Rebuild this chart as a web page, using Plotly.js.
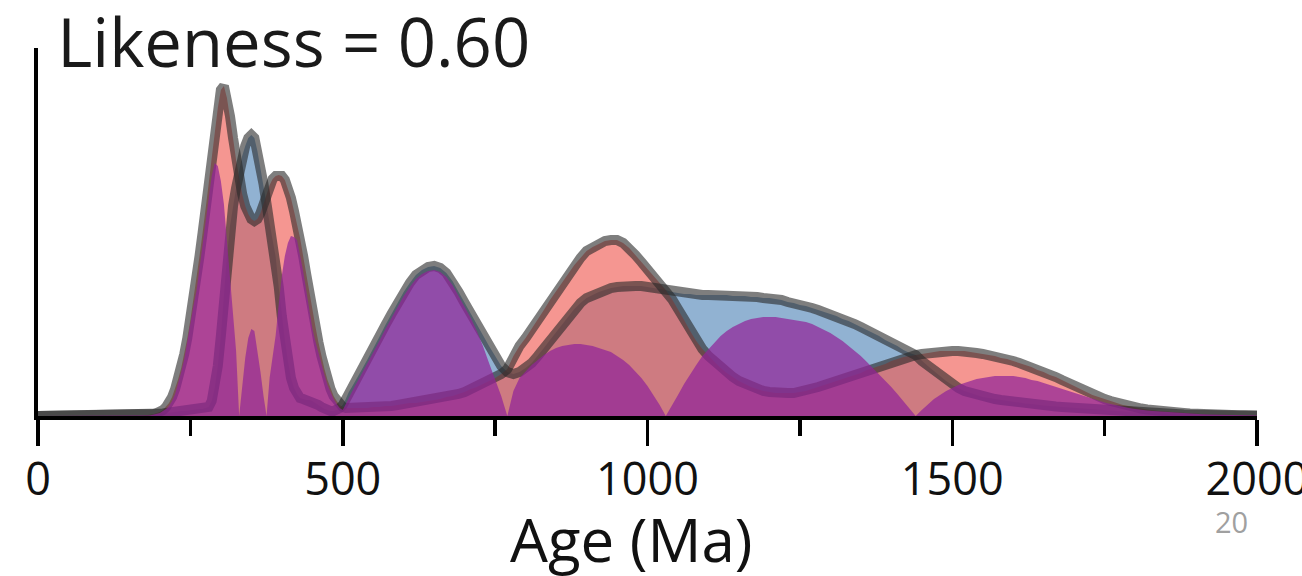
<!DOCTYPE html>
<html>
<head>
<meta charset="utf-8">
<script src="https://cdn.plot.ly/plotly-3.0.1.min.js"></script>
<style>
  html, body { margin: 0; padding: 0; background: #ffffff; }
  #chart { width: 1302px; height: 576px; }
</style>
</head>
<body>
<div id="chart"></div>
<script>
// Age grid (Ma) shared by the three density curves
const ageMa = [
  0, 100, 150, 170,
  180, 185, 190, 195, 200, 205, 210, 215, 220, 225, 230, 235, 240, 245, 250,
  255, 260, 265, 270, 275, 280, 285, 290, 295, 300, 305, 310, 315, 320, 325,
  330, 335, 340, 345, 350, 355, 360, 365, 370, 375, 380, 385, 390, 395, 400,
  405, 410, 415, 420, 425, 430, 435, 440, 445, 450, 455, 460, 465, 470, 475,
  480, 485, 490, 495, 500, 505, 510, 515, 520,
  530, 540, 550, 560, 570, 580, 590, 600, 610, 620,
  630, 640, 650, 660, 670, 680, 690, 700, 710, 720,
  730, 740, 750, 760, 770, 780, 790, 800, 810, 820,
  830, 840, 850, 860, 870, 880, 890, 900, 910, 920,
  930, 940, 950, 960, 970, 980, 990, 1000, 1010, 1020,
  1030, 1040, 1050, 1060, 1070, 1080, 1090, 1100, 1110, 1120,
  1130, 1140, 1150, 1160, 1170, 1180, 1190, 1200, 1210, 1220,
  1230, 1240, 1250, 1260, 1270, 1280, 1290, 1300, 1310, 1320,
  1330, 1340, 1350, 1360, 1370, 1380, 1390, 1400, 1410, 1420,
  1430, 1440, 1450, 1460, 1470, 1480, 1490, 1500, 1510, 1520,
  1530, 1540, 1550, 1560, 1570, 1580, 1590, 1600, 1610, 1620,
  1630, 1640, 1650, 1660, 1670, 1680, 1690, 1700, 1710, 1720,
  1730, 1740, 1750, 1760, 1770, 1780, 1790, 1800, 1810, 1820,
  1830, 1840, 1850, 1860, 1870, 1880, 1890, 1900, 1910, 1920,
  1930, 1940, 1950, 1960, 1970, 1980, 1990, 2000
];

// Sample A (red) relative probability
const sampleA = [
  0, 0, 0.1, 0.4,
  1, 1.3, 2, 3, 4, 6, 9, 13, 19, 27, 37, 48, 62, 78, 96,
  116, 138, 160, 183, 206, 232, 258, 284, 308, 326, 330, 318, 300, 278, 256,
  238, 222, 210, 202, 197, 195, 197, 203, 212, 222, 231, 237, 240, 241, 240,
  236, 228, 218, 205, 192, 178, 160, 142, 122, 104, 90, 74, 60, 47, 36,
  27, 20, 15, 11, 9, 8, 8, 8, 8,
  8, 8, 9, 9, 10, 10, 11, 12, 13, 13,
  14, 15, 16, 17, 19, 20, 22, 24, 27, 29,
  32, 35, 38, 42, 47, 60, 70, 78, 87, 97,
  106, 116, 125, 134, 143, 151, 158, 165, 169, 172,
  175, 176, 176, 173, 168, 161, 154, 147, 140, 133,
  126, 117, 107, 96, 85, 75, 67, 60, 54, 48,
  43, 39, 35, 32, 29, 27, 25, 24, 23, 23,
  23, 23, 24, 25, 27, 29, 31, 33, 35, 37,
  39, 41, 43, 46, 48, 50, 52, 55, 57, 59,
  60, 61, 62, 63, 64, 65, 65, 65, 65, 65,
  64, 63, 62, 61, 60, 58, 57, 55, 53, 51,
  49, 46, 44, 41, 39, 36, 33, 30, 27, 24,
  21, 19, 17, 15, 13, 11, 10, 8.5, 7.5, 6.5,
  5.5, 5, 4.5, 4, 3.5, 3, 2.5, 2, 1.8, 1.6,
  1.4, 1.2, 1, 0.9, 0.8, 0.7, 0.6, 0.5
];

// Sample B (blue) relative probability
const sampleB = [
  0, 0, 0.1, 0.3,
  0.5, 0.8, 1, 1.5, 2, 2.5, 3, 3.5, 4, 4.5, 5, 5, 5, 5.5, 6,
  6, 6.5, 7, 7, 8, 9, 15, 28, 50, 80, 120, 160, 190, 210, 228,
  245, 260, 270, 278, 281, 278, 265, 248, 232, 212, 193, 177, 159, 129, 100,
  76, 55, 38, 28, 22, 18, 17, 16, 16, 15, 13, 11, 9, 7, 6,
  5, 5, 6, 8, 11, 17, 24, 29, 34,
  45, 56, 67, 79, 91, 102, 114, 124, 133, 141,
  146, 149, 150, 148, 143, 135, 124, 113, 102, 91,
  80, 70, 60, 50, 44, 42, 44, 48, 53, 60,
  68, 76, 84, 92, 100, 107, 113, 118, 121, 124,
  126, 128, 129, 130, 130, 130, 130, 129, 128, 127,
  126, 124, 123, 122, 122, 121, 121, 121, 121, 121,
  121, 120, 120, 120, 119, 119, 118, 118, 117, 116,
  114, 113, 111, 110, 108, 106, 104, 102, 100, 97,
  95, 92, 89, 86, 83, 80, 76, 73, 70, 66,
  63, 61, 55, 50, 45, 40, 35, 31, 28, 25,
  23, 21, 19, 18, 17, 16, 15, 14, 13, 12.5,
  12, 11, 10.5, 10, 9.5, 9, 8.5, 8, 7.5, 7,
  6.5, 6, 5.5, 5, 4.6, 4.2, 3.8, 3.5, 3.2, 2.9,
  2.6, 2.3, 2, 1.8, 1.6, 1.4, 1.2, 1.1, 1, 0.9,
  0.8, 0.7, 0.6, 0.5, 0.4, 0.4, 0.3, 0.3
];

// Mismatch between the two samples (magenta)
const mismatch = [
  0, 0, 0.1, 0.3,
  0.5, 0.8, 1.5, 2, 3, 5, 7, 10, 15, 22, 32, 44, 57, 75, 94,
  110, 125, 148, 170, 195, 218, 240, 253, 250, 235, 212, 175, 140, 102, 65,
  0, 30, 58, 78, 87, 85, 66, 44, 20, 0, 38, 60, 81, 112, 140,
  160, 173, 180, 179, 176, 162, 145, 126, 107, 88, 75, 63, 52, 41, 31,
  23, 17, 12, 8, 6, 12, 19, 25, 30,
  41, 52, 63, 75, 87, 98, 110, 120, 129, 137,
  142, 145, 146, 144, 139, 131, 120, 109, 98, 85,
  70, 53, 37, 20, 0, 25, 38, 45, 51, 56,
  61, 65, 68, 70, 71, 72, 72, 71, 70, 68,
  66, 64, 60, 56, 51, 45, 38, 30, 21, 11,
  0, 10, 21, 32, 42, 51, 60, 67, 74, 80,
  85, 89, 92, 95, 97, 98, 99, 99, 99, 98,
  97, 96, 95, 94, 92, 89, 86, 83, 79, 75,
  70, 65, 60, 54, 48, 42, 36, 29, 22, 15,
  8, 0, 6, 12, 17, 21, 25, 28, 31, 33,
  35, 37, 38, 39, 40, 40, 40, 40, 39, 38,
  36, 35, 33, 31, 29, 27, 25, 23, 21, 19,
  17, 15, 13.5, 12, 10.5, 9, 8, 7, 6, 5.5,
  5, 4.5, 4, 3.5, 3, 2.6, 2.2, 1.9, 1.7, 1.5,
  1.3, 1.1, 1, 0.8, 0.7, 0.6, 0.5, 0.4
];

const majorTicks = [0, 500, 1000, 1500, 2000];
const minorTicks = [250, 750, 1250, 1750];
const likenessText = 'Likeness = 0.60';
const xTitle = 'Age (Ma)';
const slideNumber = '20';

const outline = 'rgba(40,40,40,0.6)';

const traces = [
  { x: ageMa, y: sampleB, type: 'scatter', mode: 'lines', fill: 'tozeroy',
    fillcolor: 'rgba(72,127,180,0.6)', line: { width: 0 }, hoverinfo: 'skip' },
  { x: ageMa, y: sampleA, type: 'scatter', mode: 'lines', fill: 'tozeroy',
    fillcolor: 'rgba(240,94,86,0.65)', line: { width: 0 }, hoverinfo: 'skip' },
  { x: ageMa, y: sampleB, type: 'scatter', mode: 'lines',
    line: { color: outline, width: 10 }, hoverinfo: 'skip' },
  { x: ageMa, y: sampleA, type: 'scatter', mode: 'lines',
    line: { color: outline, width: 10 }, hoverinfo: 'skip' },
  { x: ageMa, y: mismatch, type: 'scatter', mode: 'lines', fill: 'tozeroy',
    fillcolor: 'rgba(145,36,152,0.72)', line: { width: 0 }, hoverinfo: 'skip' }
];

const layout = {
  width: 1302,
  height: 576,
  paper_bgcolor: '#ffffff',
  plot_bgcolor: '#ffffff',
  showlegend: false,
  margin: { l: 38, r: 45, t: 48, b: 160 },
  title: {
    text: likenessText,
    font: { family: 'Open Sans', size: 67, color: '#1a1a1a' },
    xref: 'container', yref: 'container',
    x: 0.044, xanchor: 'left',
    y: 0.925, yanchor: 'middle'
  },
  xaxis: {
    range: [0, 2000],
    showgrid: false, zeroline: false,
    showline: true, linewidth: 4, linecolor: '#000000',
    ticks: 'outside', ticklen: 26, tickwidth: 3.5, tickcolor: '#000000',
    tickmode: 'array', tickvals: majorTicks, ticktext: majorTicks.map(String),
    tickfont: { family: 'Open Sans', size: 45, color: '#111111' },
    ticklabelstandoff: -5,
    ticklabeloverflow: 'allow',
    minor: { ticks: 'outside', ticklen: 16, tickwidth: 3.5, tickcolor: '#000000',
             tickmode: 'array', tickvals: minorTicks, showgrid: false },
    automargin: false,
    fixedrange: true
  },
  yaxis: {
    range: [0, 368],
    showgrid: false, zeroline: false,
    showline: true, linewidth: 4, linecolor: '#000000',
    ticks: '', showticklabels: false,
    automargin: false,
    fixedrange: true
  },
  annotations: [
    { text: xTitle, xref: 'paper', yref: 'paper', x: 0.4865, y: -0.335,
      xanchor: 'center', yanchor: 'middle', showarrow: false,
      font: { family: 'Open Sans', size: 60, color: '#111111' } },
    { text: slideNumber, xref: 'paper', yref: 'paper', x: 0.979, y: -0.288,
      xanchor: 'center', yanchor: 'middle', showarrow: false,
      font: { family: 'Open Sans', size: 29, color: '#a0a0a0' } }
  ]
};

Plotly.newPlot('chart', traces, layout, { displayModeBar: false, staticPlot: true });
</script>
</body>
</html>
